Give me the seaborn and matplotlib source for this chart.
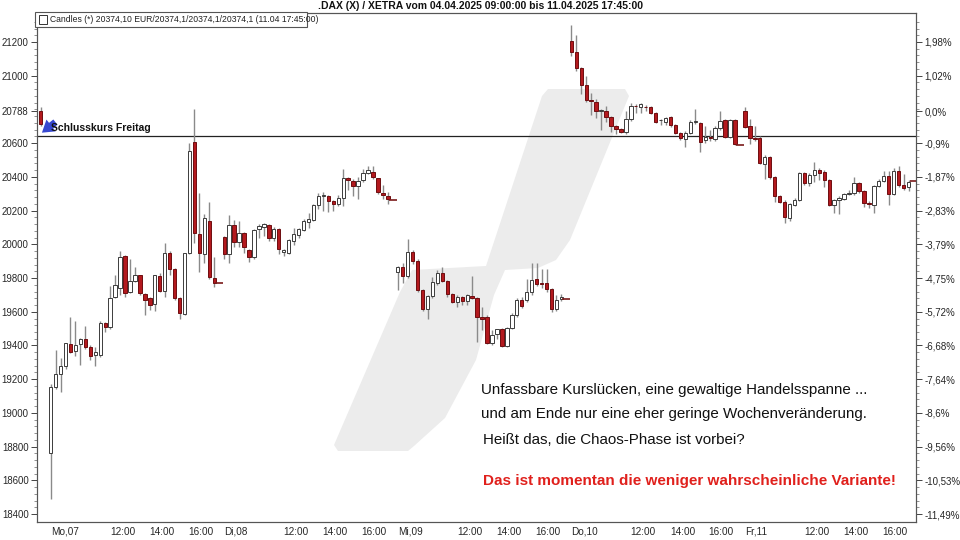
import numpy as np
import pandas as pd
import seaborn as sns
import matplotlib.pyplot as plt
from matplotlib.patches import Polygon, Rectangle

# 15-minute candles (open, high, low, close), 35 bars per trading day
fr_04 = [(20788, 20813, 20700, 20714)]

mo_07 = [
    (18762, 19170, 18490, 19153), (19153, 19373, 19140, 19230), (19230, 19325, 19124, 19278),
    (19278, 19417, 19258, 19413), (19409, 19567, 19353, 19361), (19365, 19545, 19340, 19405),
    (19407, 19445, 19284, 19438), (19436, 19515, 19377, 19393), (19393, 19400, 19314, 19339),
    (19341, 19393, 19278, 19361), (19341, 19547, 19330, 19531), (19531, 19540, 19482, 19511),
    (19511, 19753, 19500, 19680), (19689, 19818, 19680, 19759), (19739, 19961, 19700, 19926),
    (19930, 19935, 19689, 19713), (19719, 19911, 19710, 19784), (19784, 19864, 19775, 19816),
    (19816, 19820, 19700, 19713), (19705, 19710, 19581, 19670), (19680, 19685, 19610, 19640),
    (19646, 19820, 19604, 19816), (19814, 19830, 19715, 19723), (19725, 20009, 19689, 19950),
    (19950, 19960, 19818, 19852), (19852, 19860, 19670, 19680), (19680, 19690, 19555, 19591),
    (19587, 19950, 19580, 19947), (19947, 20603, 19940, 20553), (20609, 20800, 20010, 20065),
    (20061, 20304, 19838, 19947), (19942, 20180, 19891, 20156), (20138, 20249, 19792, 19808),
    (19798, 19926, 19745, 19772), (19769, 19769, 19769, 19769),
]

di_08 = [
    (20045, 20050, 19911, 19942), (19942, 20174, 19891, 20114), (20114, 20144, 19982, 20015),
    (20015, 20140, 19982, 20069), (20069, 20075, 19950, 19982), (19966, 19975, 19895, 19923),
    (19923, 20090, 19915, 20085), (20089, 20119, 20035, 20108), (20104, 20125, 20049, 20119),
    (20114, 20120, 20017, 20035), (20035, 20100, 20019, 20092), (20089, 20095, 19942, 19970),
    (19955, 19975, 19930, 19965), (19950, 20030, 19942, 20025), (20021, 20095, 19995, 20061),
    (20055, 20095, 20040, 20089), (20085, 20150, 20080, 20140), (20134, 20184, 20095, 20148),
    (20144, 20240, 20138, 20233), (20233, 20302, 20208, 20287), (20287, 20310, 20200, 20292),
    (20287, 20290, 20193, 20259), (20259, 20265, 20200, 20239), (20239, 20290, 20230, 20273),
    (20273, 20445, 20227, 20395), (20395, 20400, 20320, 20380), (20377, 20385, 20286, 20346),
    (20346, 20400, 20267, 20377), (20381, 20445, 20370, 20425), (20425, 20465, 20415, 20440),
    (20431, 20465, 20390, 20397), (20391, 20395, 20300, 20312), (20306, 20350, 20267, 20292),
    (20287, 20310, 20240, 20267), (20263, 20263, 20263, 20263),
]

mi_09 = [
    (19837, 19870, 19729, 19864), (19864, 19891, 19772, 19812), (19812, 20030, 19800, 19956),
    (19956, 19965, 19885, 19903), (19903, 19910, 19715, 19729), (19729, 19735, 19605, 19614),
    (19614, 19700, 19555, 19693), (19693, 19808, 19680, 19778), (19772, 19850, 19760, 19832),
    (19832, 19867, 19775, 19784), (19784, 19790, 19690, 19705), (19705, 19710, 19650, 19660),
    (19660, 19700, 19630, 19689), (19686, 19695, 19640, 19666), (19666, 19705, 19640, 19697),
    (19693, 19812, 19675, 19683), (19683, 19690, 19422, 19567), (19567, 19630, 19492, 19560),
    (19571, 19580, 19410, 19416), (19416, 19490, 19405, 19462), (19468, 19500, 19440, 19496),
    (19496, 19505, 19390, 19397), (19397, 19510, 19390, 19502), (19502, 19590, 19495, 19580),
    (19580, 19680, 19570, 19669), (19669, 19685, 19620, 19634), (19669, 19792, 19660, 19719),
    (19719, 19887, 19700, 19788), (19792, 19887, 19755, 19764), (19770, 19852, 19740, 19764),
    (19769, 19852, 19720, 19733), (19733, 19740, 19600, 19614), (19614, 19699, 19605, 19669),
    (19674, 19705, 19665, 19686), (19674, 19674, 19674, 19674),
]

do_10 = [
    (21208, 21301, 21117, 21142), (21142, 21242, 21030, 21044), (21044, 21050, 20892, 20945),
    (20945, 20998, 20846, 20856), (20856, 20899, 20767, 20848), (20846, 20860, 20747, 20792),
    (20790, 20800, 20678, 20795), (20792, 20820, 20728, 20753), (20753, 20760, 20668, 20702),
    (20702, 20710, 20654, 20682), (20682, 20690, 20660, 20668), (20668, 20792, 20654, 20741),
    (20741, 20836, 20730, 20820), (20820, 20830, 20777, 20818), (20816, 20840, 20780, 20832),
    (20815, 20825, 20790, 20812), (20812, 20820, 20775, 20781), (20781, 20785, 20720, 20727),
    (20735, 20745, 20708, 20738), (20727, 20755, 20705, 20747), (20753, 20760, 20695, 20708),
    (20708, 20715, 20655, 20662), (20658, 20668, 20619, 20629), (20623, 20670, 20575, 20662),
    (20662, 20735, 20655, 20727), (20727, 20800, 20715, 20730), (20721, 20728, 20549, 20609),
    (20619, 20700, 20600, 20635), (20637, 20680, 20615, 20633), (20623, 20700, 20615, 20688),
    (20688, 20792, 20680, 20733), (20737, 20745, 20628, 20635), (20637, 20745, 20628, 20737),
    (20737, 20742, 20590, 20595), (20589, 20589, 20589, 20589),
]

fr_11 = [
    (20792, 20813, 20690, 20697), (20702, 20741, 20595, 20629), (20631, 20700, 20610, 20627),
    (20629, 20640, 20475, 20480), (20476, 20530, 20386, 20520), (20520, 20525, 20390, 20397),
    (20397, 20405, 20253, 20286), (20286, 20290, 20245, 20253), (20253, 20260, 20128, 20160),
    (20154, 20245, 20140, 20239), (20233, 20275, 20225, 20263), (20263, 20430, 20255, 20425),
    (20425, 20430, 20350, 20365), (20365, 20425, 20345, 20411), (20411, 20490, 20370, 20441),
    (20441, 20455, 20380, 20425), (20431, 20440, 20340, 20381), (20381, 20385, 20225, 20233),
    (20233, 20270, 20184, 20263), (20263, 20285, 20180, 20273), (20267, 20305, 20260, 20298),
    (20300, 20320, 20295, 20306), (20302, 20397, 20295, 20362), (20362, 20370, 20305, 20318),
    (20318, 20322, 20219, 20247), (20245, 20255, 20215, 20240), (20233, 20350, 20184, 20346),
    (20346, 20385, 20340, 20377), (20377, 20437, 20370, 20405), (20405, 20437, 20233, 20298),
    (20298, 20450, 20290, 20437), (20437, 20465, 20340, 20352), (20352, 20420, 20325, 20332),
    (20338, 20380, 20315, 20371), (20374, 20374, 20374, 20374),
]

day_labels = ["Mo,07", "Di,08", "Mi,09", "Do,10", "Fr,11"]
hour_labels = ["12:00", "14:00", "16:00"]
hour_offsets = [14.5, 22.4, 30.2]     # bar offsets of the hour ticks inside a day
bars_per_day = 35

prev_close = 20641.7      # Schlusskurs Freitag
left_ticks = [21200, 21000, 20788, 20600, 20400, 20200, 20000, 19800,
              19600, 19400, 19200, 19000, 18800, 18600, 18400]
right_labels = ["1,98%", "1,02%", "0,0%", "-0,9%", "-1,87%", "-2,83%", "-3,79%",
                "-4,75%", "-5,72%", "-6,68%", "-7,64%", "-8,6%", "-9,56%",
                "-10,53%", "-11,49%"]

title = ".DAX (X) / XETRA vom 04.04.2025 09:00:00 bis 11.04.2025 17:45:00"
legend_txt = "Candles (*) 20374,10 EUR/20374,1/20374,1/20374,1 (11.04 17:45:00)"
notes = ["Unfassbare Kurslücken, eine gewaltige Handelsspanne ...",
         "und am Ende nur eine eher geringe Wochenveränderung.",
         "Heißt das, die Chaos-Phase ist vorbei?"]
note_red = "Das ist momentan die weniger wahrscheinliche Variante!"

# build one table of bars
rows = [(-2,) + fr_04[0]]
for d, day in enumerate([mo_07, di_08, mi_09, do_10, fr_11]):
    for j, c in enumerate(day):
        rows.append((d * bars_per_day + j,) + c)
df = pd.DataFrame(rows, columns=["idx", "open", "high", "low", "close"])
df["flat"] = (df["high"] == df["low"])
df["up"] = df["close"] >= df["open"]

sns.set_theme(style="white")
plt.rcParams["font.family"] = ["Liberation Sans", "DejaVu Sans"]

fig = plt.figure(figsize=(9.6, 5.4), dpi=100)
ax = fig.add_axes([37 / 960, 18 / 540, 879 / 960, 509 / 540])
ax.set_xlim(-2.75, 174.5)
ax.set_ylim(18353, 21372)

# watermark logo (pixel outline -> axes fraction)
wm_px = [(548, 89), (625, 89), (629, 96), (570, 240), (556, 260), (538, 268),
         (505, 270), (494, 295), (476, 360), (445, 418), (414, 446), (408, 451),
         (338, 451), (334, 445), (400, 292), (412, 270), (486, 266), (542, 96)]
wm = [((x - 37) / 879, (522 - y) / 509) for x, y in wm_px]
ax.add_patch(Polygon(wm, closed=True, transform=ax.transAxes,
                     facecolor="#ececec", edgecolor="none", zorder=0))

ax.axhline(prev_close, color="#222222", lw=0.9, zorder=1)

real = df[~df["flat"]]
ax.vlines(real["idx"], real["low"], real["high"], color="#8a8a8a", lw=1.0, zorder=2)

bottoms = np.minimum(real["open"], real["close"])
heights = np.maximum((real["close"] - real["open"]).abs(), 4)
fills = np.where(real["up"], "white", "#b3191e")
edges = np.where(real["up"], "#3c3c3c", "#6e0d10")
ax.bar(real["idx"], heights, bottom=bottoms, width=0.68, color=fills,
       edgecolor=edges, linewidth=0.7, zorder=3)

flat = df[df["flat"]]
sns.scatterplot(x=flat["idx"], y=flat["close"], marker="_", s=30, color="#7a1a1a",
                linewidth=1.2, ax=ax, zorder=3, legend=False)
ax.set_xlabel("")
ax.set_ylabel("")

# x axis: days and hours
day_pos = [d * bars_per_day for d in range(len(day_labels))]
hour_pos = [p + o for p in day_pos for o in hour_offsets]
ax.set_xticks(day_pos)
ax.set_xticklabels(day_labels, ha="left")
ax.set_xticks(hour_pos, minor=True)
ax.set_xticklabels(hour_labels * len(day_labels), minor=True)
ax.tick_params(axis="x", which="major", direction="out", length=3.5, width=1.3,
               color="#111111", labelsize=7.2, pad=0)
ax.tick_params(axis="x", which="minor", direction="out", length=3, width=0.6,
               color="#555555", labelsize=7.2, pad=0.5)

# y axes
minor_y = np.arange(18400, 21360, 40)
ax.set_yticks(left_ticks)
ax.set_yticklabels([str(v) for v in left_ticks])
ax.set_yticks(minor_y, minor=True)
ax.tick_params(axis="y", which="major", direction="out", length=4, width=0.7,
               color="#444444", labelsize=6.9, pad=2)
ax.tick_params(axis="y", which="minor", direction="out", length=2, width=0.5,
               color="#666666")

ax2 = ax.twinx()
ax2.set_ylim(ax.get_ylim())
ax2.set_yticks(left_ticks)
ax2.set_yticklabels(right_labels)
ax2.set_yticks(minor_y, minor=True)
ax2.tick_params(axis="y", which="major", direction="out", length=4, width=0.7,
                color="#444444", labelsize=7, pad=2)
ax2.tick_params(axis="y", which="minor", direction="out", length=2, width=0.5,
                color="#666666")
ax2.grid(False)
ax.grid(False)

for a in (ax, ax2):
    for sp in a.spines.values():
        sp.set_color("#555555")
        sp.set_linewidth(0.8)

fig.text(480 / 960, 1 - 6 / 540, title, ha="center", va="center",
         fontsize=7.5, fontweight="bold", color="#111111")

# legend box
fig.patches.append(Rectangle((35 / 960, 1 - 27 / 540), 272 / 960, 15 / 540,
                             transform=fig.transFigure, facecolor="white",
                             edgecolor="#555555", linewidth=0.8, zorder=6))
fig.patches.append(Rectangle((39 / 960, 1 - 23.5 / 540), 8 / 960, 8 / 540,
                             transform=fig.transFigure, facecolor="white",
                             edgecolor="#333333", linewidth=0.7, zorder=7))
fig.text(50 / 960, 1 - 19.5 / 540, legend_txt, ha="left", va="center",
         fontsize=6.2, color="#222222", zorder=8)

# Schlusskurs Freitag
ax.annotate("", xy=(-2.2, 20652), xytext=(1.4, 20735),
            arrowprops=dict(arrowstyle="simple,head_width=0.9,head_length=0.7,tail_width=0.4",
                            color="#3748d0", lw=0), zorder=5)
ax.text(0.1, 20690, "Schlusskurs Freitag", fontsize=7.5, fontweight="bold",
        color="#111111", ha="left", va="center", zorder=6)

# commentary
for txt, ypx, xpx in zip(notes, [390, 414, 440], [481, 481, 483]):
    fig.text(xpx / 960, 1 - ypx / 540, txt, fontsize=10.9, color="#111111",
             ha="left", va="center")
fig.text(483 / 960, 1 - 481 / 540, note_red, fontsize=11, fontweight="bold",
         color="#e0201c", ha="left", va="center")

fig.savefig("out.png", dpi=100)
